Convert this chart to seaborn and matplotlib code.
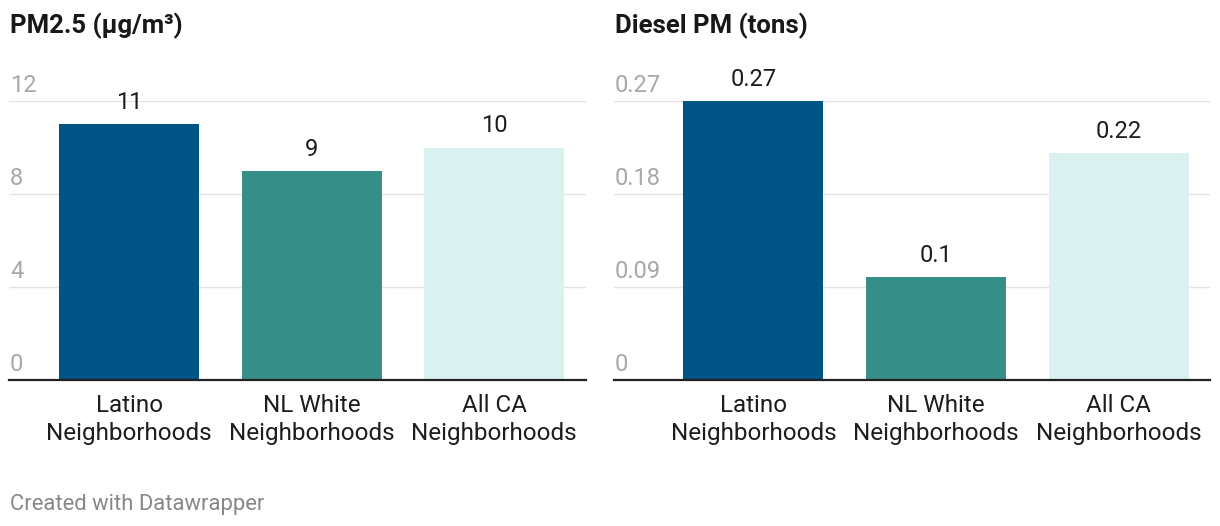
import matplotlib
matplotlib.use("Agg")
import matplotlib.pyplot as plt
import matplotlib.transforms as mtransforms
import seaborn as sns
import pandas as pd

categories = ["Latino\nNeighborhoods", "NL White\nNeighborhoods", "All CA\nNeighborhoods"]
pm25_values = [11, 9, 10]
pm25_labels = ["11", "9", "10"]
diesel_values = [0.27, 0.1, 0.22]
diesel_labels = ["0.27", "0.1", "0.22"]
pm25_ticks = [0, 4, 8, 12]
pm25_tick_labels = ["0", "4", "8", "12"]
diesel_ticks = [0, 0.09, 0.18, 0.27]
diesel_tick_labels = ["0", "0.09", "0.18", "0.27"]
titles = ["PM2.5 (µg/m³)", "Diesel PM (tons)"]
colors = ["#005586", "#358f88", "#daf2ef"]

sns.set_theme(style="white")
plt.rcParams['font.family'] = ['Roboto', 'DejaVu Sans']

W, H = 1220, 526
fig = plt.figure(figsize=(W / 100, H / 100), dpi=100)

def px_axes(x0, x1, ytop, ybot):
    return fig.add_axes([x0 / W, 1 - ybot / H, (x1 - x0) / W, (ybot - ytop) / H])

ax1 = px_axes(9, 586, 101, 380)
ax2 = px_axes(614, 1210, 101, 380)

panels = [
    (ax1, pm25_values, pm25_labels, pm25_ticks, pm25_tick_labels, (-0.658, 2.504), 12),
    (ax2, diesel_values, diesel_labels, diesel_ticks, diesel_tick_labels, (-0.764, 2.501), 0.27),
]

for ax, vals, vlabels, ticks, tlabels, xlim, ymax in panels:
    df = pd.DataFrame({"cat": categories, "val": vals})
    sns.barplot(data=df, x="cat", y="val", hue="cat", palette=colors, order=categories,
                hue_order=categories, width=0.767, legend=False, ax=ax, saturation=1,
                edgecolor="none", linewidth=0)
    ax.set_xlim(*xlim)
    ax.set_ylim(0, ymax)
    ax.set_xlabel("")
    ax.set_ylabel("")
    for s in ["top", "right", "left"]:
        ax.spines[s].set_visible(False)
    ax.spines["bottom"].set_color("#222222")
    ax.spines["bottom"].set_linewidth(1.6)
    ax.set_yticks(ticks)
    ax.set_yticklabels([])
    ax.tick_params(axis="y", length=0)
    ax.grid(axis="y", color="#e3e3e3", linewidth=1.0)
    ax.set_axisbelow(True)
    ax.tick_params(axis="x", length=0, pad=10, labelsize=17.5, labelcolor="#1d1d1d")
    for lab in ax.get_xticklabels():
        lab.set_linespacing(1.3)
    trans = mtransforms.blended_transform_factory(ax.transAxes, ax.transData)
    off = mtransforms.ScaledTranslation(1 / 100, 9 / 100, fig.dpi_scale_trans)
    for t, tl in zip(ticks, tlabels):
        ax.text(0.0, t, tl, transform=trans + off,
                ha="left", va="baseline", fontsize=17, color="#a8a8a8")
    bars = sorted(ax.patches, key=lambda p: p.get_x())
    for bar, lab in zip(bars, vlabels):
        ax.annotate(lab, (bar.get_x() + bar.get_width() / 2, bar.get_height()),
                    xytext=(0, 10.8), textcoords="offset points", ha="center", va="baseline",
                    fontsize=17, color="#1d1d1d", annotation_clip=False)

fig.text(10 / W, 1 - 33 / H, titles[0], ha="left", va="baseline", fontsize=18.5, fontweight="bold", color="#181818")
fig.text(615 / W, 1 - 33 / H, titles[1], ha="left", va="baseline", fontsize=18.5, fontweight="bold", color="#181818")
fig.text(10 / W, 1 - 510 / H, "Created with Datawrapper", ha="left", va="baseline", fontsize=15.8, color="#888888")

fig.savefig("out.png", dpi=100)
